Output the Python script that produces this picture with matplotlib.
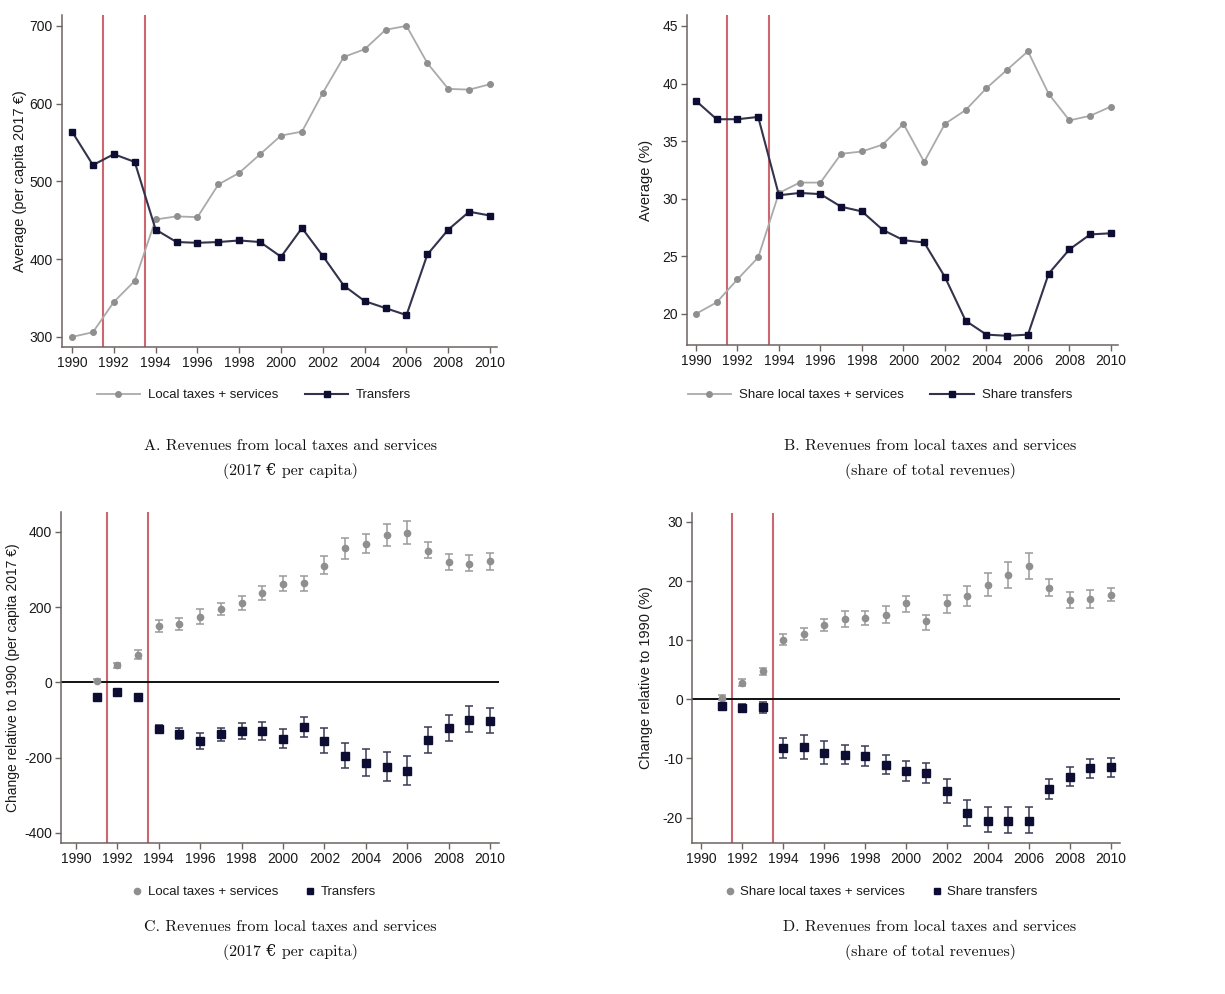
import matplotlib
matplotlib.use("Agg")
import matplotlib.pyplot as plt
from matplotlib.lines import Line2D
import numpy as np

plt.rcParams["font.family"] = ["Liberation Sans", "DejaVu Sans"]
plt.rcParams["axes.unicode_minus"] = False

YEARS = list(range(1990, 2011))
YEARS_C = list(range(1991, 2011))

# Panel A: levels, 2017 euros per capita
local_lvl = [300, 306, 345, 372, 451, 455, 454, 496, 511, 535, 559, 564,
             614, 660, 670, 695, 700, 652, 619, 618, 625]
transfer_lvl = [564, 521, 535, 525, 438, 422, 421, 422, 424, 422, 403, 440,
                404, 366, 346, 337, 328, 406, 438, 461, 456]

# Panel B: shares of total revenues (%)
local_shr = [20.0, 21.0, 23.0, 24.9, 30.5, 31.4, 31.4, 33.9, 34.1, 34.7, 36.5,
             33.2, 36.5, 37.7, 39.6, 41.2, 42.8, 39.1, 36.8, 37.2, 38.0]
transfer_shr = [38.5, 36.9, 36.9, 37.1, 30.3, 30.5, 30.4, 29.3, 28.9, 27.3, 26.4,
                26.2, 23.2, 19.4, 18.2, 18.1, 18.2, 23.5, 25.6, 26.9, 27.0]

# Panel C: change relative to 1990 (euros), point, lower, upper
local_chg = [5, 45, 73, 150, 155, 175, 195, 212, 237, 262, 263, 310, 357, 368,
             392, 398, 350, 320, 316, 322]
local_chg_lo = [0, 38, 62, 135, 140, 155, 180, 193, 218, 242, 243, 288, 328,
                343, 363, 368, 330, 298, 295, 300]
local_chg_hi = [10, 52, 85, 165, 170, 195, 212, 230, 255, 282, 283, 335, 385,
                395, 422, 428, 372, 342, 338, 345]
transfer_chg = [-40, -25, -38, -123, -137, -155, -137, -130, -128, -150, -118,
                -155, -195, -215, -225, -235, -153, -122, -100, -103]
transfer_chg_lo = [-48, -32, -45, -135, -150, -178, -155, -150, -152, -175, -145,
                   -188, -228, -250, -262, -272, -187, -155, -133, -135]
transfer_chg_hi = [-30, -18, -30, -112, -122, -135, -120, -108, -105, -125, -92,
                   -122, -160, -178, -185, -195, -118, -88, -63, -68]

# Panel D: change relative to 1990 (percentage points)
local_pp = [0.3, 2.8, 4.7, 10.1, 11.1, 12.6, 13.6, 13.8, 14.3, 16.2, 13.2, 16.2,
            17.4, 19.4, 21.0, 22.5, 18.9, 16.8, 16.9, 17.7]
local_pp_lo = [-0.2, 2.2, 4.1, 9.2, 10.1, 11.5, 12.3, 12.6, 12.9, 14.7, 11.8,
               14.6, 15.7, 17.5, 18.9, 20.4, 17.4, 15.5, 15.5, 16.6]
local_pp_hi = [0.8, 3.4, 5.3, 11.0, 12.1, 13.6, 15.0, 15.0, 15.7, 17.5, 14.3,
               17.7, 19.1, 21.4, 23.2, 24.7, 20.3, 18.1, 18.4, 18.9]
transfer_pp = [-1.2, -1.4, -1.3, -8.2, -8.1, -9.0, -9.4, -9.6, -11.1, -12.2, -12.5,
               -15.5, -19.3, -20.5, -20.6, -20.5, -15.2, -13.1, -11.7, -11.5]
transfer_pp_lo = [-1.8, -2.1, -2.4, -9.9, -10.1, -10.9, -10.9, -11.2, -12.7, -13.8,
                  -14.2, -17.5, -21.5, -22.5, -22.6, -22.6, -16.9, -14.7, -13.3, -13.2]
transfer_pp_hi = [-0.6, -0.8, -0.5, -6.6, -6.1, -7.0, -7.8, -7.9, -9.5, -10.5,
                  -10.7, -13.5, -17.0, -18.2, -18.2, -18.2, -13.5, -11.5, -10.1, -9.9]

REFORMS = [1991.5, 1993.5]

GRAY_LINE = "#aaaaaa"
GRAY_MK = "#8f8f8f"
NAVY_LINE = "#33334d"
NAVY_MK = "#0d0d33"
RED = "#cc6670"
SPINE = "#6e6262"
TXT = "#1a1a1a"

W, H = 1225, 994
fig = plt.figure(figsize=(W / 100, H / 100), dpi=100)
fig.patch.set_facecolor("white")


def add_ax(left, right, top, bottom):
    return fig.add_axes([left / W, 1 - bottom / H, (right - left) / W, (bottom - top) / H])


def style(ax, xlim, ylim, yticks, ylabel, label_x, label_size=10.5):
    ax.set_xlim(*xlim)
    ax.set_ylim(*ylim)
    ax.set_xticks(range(1990, 2011, 2))
    ax.set_yticks(yticks)
    for s in ("top", "right"):
        ax.spines[s].set_visible(False)
    for s in ("left", "bottom"):
        ax.spines[s].set_color(SPINE)
        ax.spines[s].set_linewidth(1.1)
    ax.tick_params(direction="out", length=4, width=1, color=SPINE,
                   labelsize=10, labelcolor=TXT, pad=2.5)
    ax.set_ylabel(ylabel, fontsize=label_size, color=TXT)
    ax.yaxis.set_label_coords(label_x, 0.5)
    for x in REFORMS:
        ax.axvline(x, color=RED, linewidth=1.5, zorder=1)


def caption(xc, y, line1, line2):
    fam = ["cmr10", "DejaVu Serif"]
    fig.text(xc / W, 1 - y / H, line1, ha="center", va="center",
             fontsize=11.5, family=fam, color="#111111")
    fig.text(xc / W, 1 - (y + 25) / H, line2, ha="center", va="center",
             fontsize=11.5, family=fam, color="#111111")


def line_panel(ax, loc, tr):
    ax.plot(YEARS, loc, color=GRAY_LINE, linewidth=1.3, marker="o", markersize=4,
            markerfacecolor=GRAY_MK, markeredgecolor=GRAY_MK, zorder=3)
    ax.plot(YEARS, tr, color=NAVY_LINE, linewidth=1.5, marker="s", markersize=5,
            markerfacecolor=NAVY_MK, markeredgecolor=NAVY_MK, zorder=4)


def ci_panel(ax, loc, loc_lo, loc_hi, tr, tr_lo, tr_hi):
    ax.axhline(0, color="#111111", linewidth=1.4, zorder=2)
    loc, loc_lo, loc_hi = map(np.array, (loc, loc_lo, loc_hi))
    tr, tr_lo, tr_hi = map(np.array, (tr, tr_lo, tr_hi))
    ax.errorbar(YEARS_C, loc, yerr=[loc - loc_lo, loc_hi - loc], fmt="o",
                color=GRAY_MK, ecolor="#9a9a9a", elinewidth=1.1, capsize=3,
                capthick=1.1, markersize=4.5, zorder=3)
    ax.errorbar(YEARS_C, tr, yerr=[tr - tr_lo, tr_hi - tr], fmt="s",
                color=NAVY_MK, ecolor="#3a3a55", elinewidth=1.1, capsize=3,
                capthick=1.1, markersize=5.5, zorder=4)


def legend(xc, y, labels, kind):
    if kind == "line":
        handles = [
            Line2D([], [], color=GRAY_LINE, linewidth=1.3, marker="o", markersize=4,
                   markerfacecolor=GRAY_MK, markeredgecolor=GRAY_MK),
            Line2D([], [], color=NAVY_LINE, linewidth=1.5, marker="s", markersize=5,
                   markerfacecolor=NAVY_MK, markeredgecolor=NAVY_MK),
        ]
        hl, hp = 3.3, 0.6
    else:
        handles = [
            Line2D([], [], linestyle="none", marker="o", markersize=4.5, color=GRAY_MK),
            Line2D([], [], linestyle="none", marker="s", markersize=5, color=NAVY_MK),
        ]
        hl, hp = 0.8, 0.4
    fig.legend(handles=handles, labels=labels, loc="center",
               bbox_to_anchor=(xc / W, 1 - y / H), ncol=2, frameon=False,
               fontsize=9.5, handlelength=hl, handletextpad=hp, columnspacing=2.0,
               labelcolor=TXT)


# A
axA = add_ax(62, 497, 15, 347)
line_panel(axA, local_lvl, transfer_lvl)
style(axA, (1989.52, 2010.33), (287, 714), [300, 400, 500, 600, 700],
      "Average (per capita 2017 €)", -0.080)
legend(254, 395, ["Local taxes + services", "Transfers"], "line")
caption(290, 446, "A. Revenues from local taxes and services", "(2017 € per capita)")

# B
axB = add_ax(687, 1118, 15, 345)
line_panel(axB, local_shr, transfer_shr)
style(axB, (1989.57, 2010.34), (17.3, 45.95), [20, 25, 30, 35, 40, 45],
      "Average (%)", -0.079)
legend(880, 395, ["Share local taxes + services", "Share transfers"], "line")
caption(930, 446, "B. Revenues from local taxes and services", "(share of total revenues)")

# C
axC = add_ax(61, 499, 512, 843)
ci_panel(axC, local_chg, local_chg_lo, local_chg_hi,
         transfer_chg, transfer_chg_lo, transfer_chg_hi)
style(axC, (1989.28, 2010.43), (-427, 453), [-400, -200, 0, 200, 400],
      "Change relative to 1990 (per capita 2017 €)", -0.093, label_size=10)
legend(254, 892, ["Local taxes + services", "Transfers"], "dot")
caption(290, 927, "C. Revenues from local taxes and services", "(2017 € per capita)")

# D
axD = add_ax(692, 1120, 513, 843)
ci_panel(axD, local_pp, local_pp_lo, local_pp_hi,
         transfer_pp, transfer_pp_lo, transfer_pp_hi)
style(axD, (1989.56, 2010.44), (-24.3, 31.5), [-20, -10, 0, 10, 20, 30],
      "Change relative to 1990 (%)", -0.091)
legend(881, 892, ["Share local taxes + services", "Share transfers"], "dot")
caption(930, 927, "D. Revenues from local taxes and services", "(share of total revenues)")

fig.savefig("out.png", dpi=100)
